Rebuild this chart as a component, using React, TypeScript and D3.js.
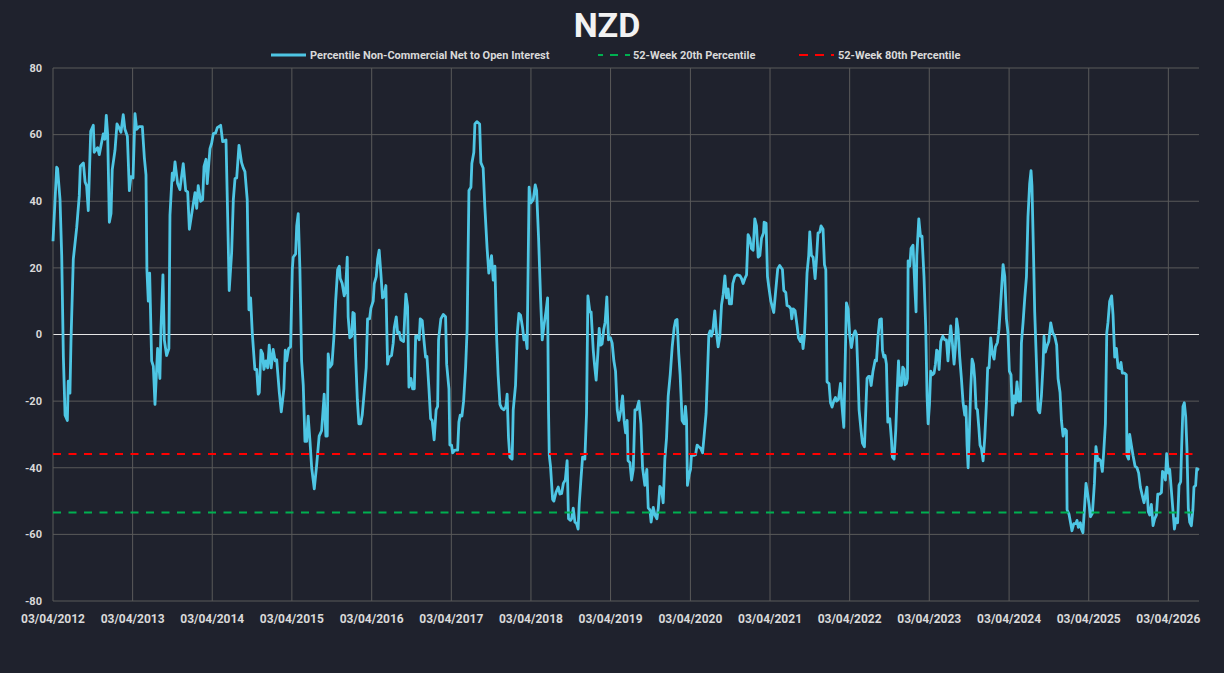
import React from 'react'
import * as d3 from 'd3'

// weekly COT readings: [weeks since 03/04/2012, percentile net-to-OI]
const readings2012 = [
  [0, 28], [2.4, 50.2], [3, 49.8], [4.6, 40.5], [5.7, 23.7], [6.8, -6.8], [7.9, -24.2], [9.4, -25.8],
  [10, -14], [11.1, -17.6], [11.8, -1.6], [13.3, 22.6], [15.5, 32], [17.2, 41.6], [17.9, 50.5],
  [19.9, 51.5], [21, 45.8], [22, 44.7], [23.1, 37.2], [24.7, 61], [26.4, 62.8], [27, 54.7],
  [29.2, 56.1], [30.3, 54], [32.9, 60.2], [34, 58.6], [34.9, 65.8], [35.8, 60], [36.9, 33.7],
  [38, 36.3], [38.8, 49.5], [40.6, 55.3], [41.9, 63.2], [43.2, 62.1], [44.5, 60.7], [46, 66],
  [47.1, 61.6], [48.7, 59.5], [50, 43.2], [51, 47.4], [52.4, 47], [53.7, 66.3], [54.8, 61.6],
  [56.3, 62.4], [58.5, 62.4], [59.8, 53.2], [60.9, 47.9], [61.5, 19.5], [62.4, 10], [63.3, 18.4],
  [64.6, -7.9], [65.7, -9.5], [66.8, -21], [68.5, -4.2], [70, -13.2], [70.7, 1.6], [72, 17.9],
  [72.9, -1.6], [74.4, -6.3], [75.9, -4.2], [76.6, 35.8], [78.1, 48.4], [78.8, 46.3], [79.9, 51.8],
  [81.6, 45.3], [83.1, 43.5], [85.3, 51.3], [86.9, 43.2], [88.2, 42.8], [89.3, 31.6],
]

const readings2014 = [
  [93, 42.6], [94.1, 37.9], [95.1, 44.7], [96.7, 40], [98, 40.5], [98.9, 50.5], [100.2, 52.6],
  [101, 45.3], [102.8, 55.8], [103.9, 57.4], [105, 60.3], [106.5, 60.5], [107.6, 62.1], [109.8, 62.8],
  [111.1, 57.9], [113.3, 58.4], [114.4, 35.3], [115.4, 13.2], [117, 24.7], [118.1, 40.5], [119.2, 46.8],
  [120.3, 47], [121.8, 56.8], [123.5, 51.6], [124.6, 50], [125.7, 48.9], [127.2, 40.5], [128.3, 7.4],
  [129.4, 11], [130.5, 0.5], [132.2, -10.5], [133.4, -10.5], [134.4, -17.9], [135.1, -17.4],
  [136.2, -4.7], [137.3, -5.8], [138.1, -10.5], [139.4, -7.9], [140.6, -10], [141.6, -3.2],
  [142.9, -10], [144.2, -4.5], [145.5, -7.9], [146.5, -7.6], [148.2, -17.4], [149.5, -23.2],
  [151.2, -16.3], [152.1, -4.7], [153, -7.9], [154.3, -4.2], [155.6, -3.7], [156.7, 19.5],
  [157.3, 23.2], [158.9, 24.2], [159.6, 32.6], [160.6, 36.3], [161.7, 19.5], [162.8, -7.9],
  [163.9, -15.3], [165, -32.1], [166.1, -32.1], [167.1, -24.5], [168.3, -32.1], [169.4, -40],
  [171.1, -46.3], [172.6, -39.5], [174.3, -30.5], [175.9, -28.9], [177.6, -17.9], [178.7, -30.5],
  [179.6, -30.5], [180.2, -5.8], [181.3, -9.8], [182.7, -8.9], [184, -0.5], [185.1, 10],
]

const readings2016 = [
  [186.4, 19.5], [187.5, 20.5], [188.1, 16.8], [189.4, 15.3], [190.7, 11.6], [191.6, 13.2],
  [192.7, 23.2], [193.3, 5.3], [194.4, -1], [195.6, -0.5], [196.4, 6.6], [197.3, 6.3], [198.2, -6.8],
  [199.3, -19.5], [200.3, -26.8], [201.5, -26.8], [202.5, -24.2], [203.8, -17.4], [205.1, -10],
  [206, 4.7], [207.3, 4.7], [208.2, 7.9], [209.7, 10], [210.4, 15.3], [211.7, 17.4], [212.6, 22.6],
  [213.6, 25.3], [214.7, 18.4], [215.8, 11], [216.9, 11.6], [218, 14.7], [219.1, -8.9], [220.2, -6.8],
  [221.7, -6.3], [222.8, -2.6], [223.5, 2.1], [224.8, 5.3], [225.7, 0.5], [226.7, 0.7], [227.8, -1.6],
  [229.6, -2.1], [230.5, 6.8], [231.1, 12.1], [232.2, 8.4], [233.1, -15.8], [234.4, -13.2],
  [235.5, -16.3], [236.6, -16.3], [237.5, -0.5], [238.8, -0.5], [239.8, -1.6], [240.5, 4.7],
  [241.8, 4.2], [242.9, -1.6], [244, -6.8], [244.9, -6.6], [246.2, -16.3], [247.3, -25.3],
  [248.3, -25.8], [249.6, -31.6], [250.9, -22.6], [251.9, -21.6], [252.5, -1.6], [254, 4.7],
  [255.6, 6], [257.1, 5.3], [257.8, -8.9], [259.3, -16.3], [259.9, -33.2], [261, -33.2],
  [261.7, -35.5], [263.2, -34.7], [265, -34.7], [265.8, -26.3], [266.7, -24.2], [267.8, -24.5],
  [268.9, -20], [270.2, -10], [271.2, 1.6], [272.4, 43.2], [273.7, 44.2], [274.3, 51.3],
  [275.6, 54.7], [276.3, 63.2], [277.6, 63.9], [279.4, 63.2], [280.2, 51.6], [281.7, 50], [282.8, 38.4],
]

const readings2017 = [
  [284.3, 25.8], [285.4, 18.4], [287.2, 23.7], [288.3, 16.3], [289.4, 20.5], [290.5, -0.5],
  [291.5, -12.1], [292.7, -21], [293.8, -22.1], [295.3, -22.6], [296.6, -21.6], [297.4, -17.9],
  [298.3, -31], [299.2, -36.8], [300.7, -37.4], [301.4, -22.6], [302.9, -15.3], [304, 0], [305.1, 6.3],
  [306.2, 5.8], [307.5, 2.1], [308.4, -1.6], [309.5, -0.5], [310.5, -4.2], [311.8, 44.2], [312.9, 39.5],
  [314.5, 40.5], [315.8, 44.9], [316.7, 43.2], [318, 28.9], [319.3, 11], [320.4, -1.6], [321.5, 2.6],
  [322.8, 6.8], [323.9, 11], [324.5, -22.6], [325, -36.3], [325.8, -39.5], [327.2, -49.5], [328, -50],
  [329.4, -47.4], [330.9, -45.8], [332, -47.9], [333.1, -47.7], [334.2, -44.7], [335.5, -43.7],
  [336.7, -37.9], [337.6, -55.3], [338.9, -55.8], [339.6, -55.3], [340.7, -52.1], [341.8, -56.3],
  [342.9, -56.8], [343.9, -58.4], [344.6, -51], [345.7, -43.7], [346.8, -36.8], [348.3, -37.4],
  [349.4, -23.7], [350.3, 11.6], [351.6, 6.8], [352.4, 6.8], [353.8, -4.7], [354.6, -8.9],
  [355.7, -13.7], [356.8, -5.8], [357.7, 1.8], [358.6, -3.2], [359.6, -2.8], [360.7, 1.6], [361.6, 3.7],
  [362.7, 11.3], [363.8, -1.6], [365.1, -1], [366.2, -2.6], [367.3, -7.9], [368.4, -11], [369.5, -22.6],
  [370.6, -25.8], [371.9, -22.6], [373, -18.4], [374, -25.8], [375, -29.5], [376, -25.8],
  [376.6, -37.9], [377.8, -38.4],
]

const readings2019 = [
  [378.9, -43.7], [380, -40.5], [381.1, -22.6], [382.2, -22.6], [383.7, -20], [385, -26.8], [386.1, -40],
  [387.6, -45.3], [388.9, -40.5], [389.8, -52.1], [390.9, -52.6], [391.7, -56.3], [393.1, -51.9],
  [394.2, -54.2], [395.5, -55.3], [396.4, -52.1], [397.4, -45.6], [398.5, -46.3], [399.6, -50.5],
  [400.7, -37.4], [401.8, -31], [402.9, -18.4], [404.2, -12.1], [405.5, -3.7], [406.8, 2.1],
  [407.7, 4.2], [408.7, 4.5], [409.8, -5.8], [410.7, -12.1], [412, -25.8], [413.3, -26.8],
  [414.2, -21.6], [414.9, -25.8], [415.5, -45.3], [416.6, -42.1], [417.5, -40.5], [418.1, -36.3],
  [419.7, -36.3], [420.8, -36.1], [421.8, -33.2], [422.9, -33.7], [424.2, -34.2], [425.4, -35.5],
  [426.4, -30.5], [427.7, -23.7], [428.6, -12.1], [429.5, 0], [430.3, 1.1], [431.2, -0.5], [432.1, 1.1],
  [433.4, 7.1], [434.5, 0.5], [435.6, -3.7], [436.7, -0.5], [437.8, 8.9], [438.9, 12.1], [440, 17.6],
  [441.1, 11], [442.1, 13.7], [443, 9.2], [444.3, 9.2], [445.2, 15.3], [446.5, 17.4], [447.8, 17.9],
  [449.8, 17.7], [450.9, 16.8], [452, 15.3], [453.1, 16.8], [454.2, 17.9], [455.2, 30], [456.3, 28.9],
  [457.4, 25.8], [458.5, 25.3], [459.6, 34.7], [460.7, 32.6], [461.8, 23.2], [462.9, 23.7], [464, 28.9],
  [465.3, 30.5], [465.7, 33.7], [467, 33.4], [467.9, 17.4], [468.8, 14.2], [470.1, 10],
]

const readings2021 = [
  [472, 6.6], [473.3, 13.2], [474.6, 19.7], [475.9, 20.7], [477.7, 19.5], [478.6, 13.2], [479.9, 12.6],
  [480.7, 8.7], [482.1, 8.4], [483.2, 7.7], [483.8, 4.7], [484.7, 7.7], [486, 7.1], [487.3, 2.6],
  [488.2, -1], [489.5, -2.1], [490.4, -0.5], [491.2, -4.2], [492.1, -0.5], [493, 8.9], [493.8, 18.4],
  [494.9, 23.7], [495.6, 30.8], [496.7, 23.7], [497.8, 23.2], [499.1, 16.8], [500, 22.6], [501, 30.5],
  [502.2, 30.8], [503, 32.6], [504.3, 31.6], [505.2, 21], [506.1, 19.5], [506.9, -14.2], [508.2, -14.7],
  [509.2, -20.5], [510.2, -21.8], [511.3, -20], [512.4, -18.9], [513.1, -20], [514.4, -19.5],
  [515.7, -14.7], [516.6, -21], [517.9, -27.9], [518.7, -10], [519.6, 9.5], [520.7, 7.7], [521.8, -0.5],
  [522.9, -3.9], [524, -0.5], [525.3, 1.1], [526.2, 0], [527, -10], [527.9, -22.6], [529.2, -28.9],
  [530.1, -32.6], [531.4, -33.7], [532.3, -22.6], [533.1, -13.2], [534.1, -12.6], [534.9, -12.6],
  [535.8, -15.3], [537, -11], [538.4, -7.7], [539.3, -7.9], [540.3, -0.5], [541.4, 4.5], [542.5, 4.7],
  [543.2, -4.7], [544.1, -6.8], [544.9, -6.3], [545.8, -8.9], [546.7, -26.3], [548, -25.3],
  [549.1, -31.6], [549.7, -36.8], [550.8, -37.4], [551.9, -28.9], [552.8, -17.4], [553.7, -7.9],
  [554.5, -15.3], [555.7, -15.3], [556.5, -9.8], [557.4, -10.5], [558, -15.1], [558.9, -14.7],
  [559.6, -13.2], [560, 22.1], [561.1, 20.5], [561.9, 25.8], [563.2, 26.8], [564.4, 14.2], [565.2, 6.8],
]

const readings2023 = [
  [565.7, 23.7], [567, 34.7], [568.1, 29.5], [569.1, 29.5], [570.4, 17.4], [571.5, 2.6], [572.4, -18.4],
  [573.1, -26.8], [574, -21], [574.8, -11], [575.9, -12.1], [577, -11.6], [577.9, -8.9], [578.7, -4.7],
  [579.6, -5.3], [580.3, -10.5], [581.4, -2.1], [582.7, -0.5], [584, -1.6], [585.1, -1.6], [586.1, -7.9],
  [587.1, -1.6], [587.9, 2.6], [589, -2.6], [590.1, -8.9], [591, -3.7], [591.8, 4.7], [592.7, 1.6],
  [593.8, -6.8], [594.9, -13.2], [596, -20.5], [597.1, -24.2], [597.9, -21.6], [598.6, -33.2],
  [599.3, -40], [600.2, -27.9], [601, -16.3], [601.9, -7.4], [602.8, -8.9], [603.6, -13.2],
  [604.5, -22.1], [605.4, -22.6], [606.3, -27.9], [607.1, -33.2], [608, -34.2], [609.1, -37.9],
  [610.2, -31], [611.3, -20.5], [612.1, -10], [613, -10], [614.1, -1], [615.2, -5.8], [616.3, -7.4],
  [617.2, -3.7], [618.5, -2.4], [619.5, 1.6], [620.7, 10], [622.2, 21], [623.3, 17.4], [624.4, 4.7],
  [625.4, 0.5], [626.3, -11], [627.4, -12.1], [628.3, -24.2], [629.4, -18.4], [630.3, -20.5],
  [631.3, -14.2], [632.4, -20], [633.6, -20], [634.2, -2.6], [635.3, 3.7], [636.4, 11], [637.5, 17.4],
  [638.5, 35.3], [639.6, 45.3], [640.5, 49.2], [641.1, 44.7], [642.1, 24.7], [642.9, 6.8], [644, -7.9],
  [645.1, -22.6], [646.2, -23.5], [647.3, -18.4], [648.4, -8.9], [649, -0.5], [649.9, -5.3],
  [650.8, -3.7], [652.1, -2.1], [653.4, 3.5], [654.7, 0.5], [656, -0.5], [657.3, -3.2], [658.2, -13.2],
  [659.5, -17.4], [660.4, -25.8], [661.5, -30.5], [662.6, -28.4],
]

const readings2025 = [
  [663.7, -28.9], [664.1, -52.6], [665.4, -54], [666.5, -56.8], [667.3, -58.9], [668.5, -56.8],
  [669.8, -56.8], [670.6, -55.8], [671.5, -57.9], [672.8, -56.5], [673.5, -58.4], [674.5, -59.5],
  [675.5, -52.1], [676.5, -44.7], [677.6, -47.9], [678.5, -51], [679.4, -54.7], [680.7, -53.7],
  [682, -44.7], [683, -33.7], [684.2, -37.9], [685, -37.4], [686.1, -37.9], [687.2, -41.1],
  [688.1, -35.3], [689.2, -26.8], [690.1, 0.5], [690.9, 3.7], [692, 10], [693.3, 11.6], [694.2, 5.8],
  [695.3, -6.8], [696.4, -4.2], [697.5, -10], [698.6, -10.2], [699.4, -8.4], [700.3, -11.6],
  [701.8, -11.6], [702.9, -12.1], [703.3, -36.3], [704.4, -37.4], [705.1, -30], [706.2, -33.2],
  [707.3, -36.3], [708.6, -39.5], [709.9, -40], [711, -41.6], [712.1, -45.8], [713.4, -48.4],
  [714.5, -50.5], [715.6, -47.9], [716.4, -45.8], [717.3, -53.2], [718.2, -54.2], [719.3, -51],
  [720.4, -57.4], [721.5, -55.3], [722.6, -54.2], [723.5, -47.9], [724.8, -47.9], [725.9, -47.4],
  [726.6, -41.1], [727.6, -41.6], [728.5, -43.7], [729.3, -35.8], [730.5, -41.6], [731.3, -40.5],
  [732.4, -46.8], [733.5, -53.2], [734.4, -58.4], [735.4, -55.3], [736.5, -56.5], [737.4, -45.3],
  [738.5, -44.2], [739.1, -34.2], [740, -21.6], [740.9, -20.5], [741.8, -24.7], [742.6, -34.2],
  [743.5, -52.1], [744.4, -56.3], [745.5, -57.4], [746.5, -52.6], [747.2, -45.8], [748.3, -45.3],
  [749, -40.3], [750.5, -40.7],
]

const pct20 = -53.4
const pct80 = -35.9
const yTicks = [-80, -60, -40, -20, 0, 20, 40, 60, 80]
const tickYears = d3.range(2012, 2027)

const START = new Date(2012, 3, 3)
const weekToDate = (w: number) => new Date(START.getTime() + w * 7 * 864e5)

const series = [
  ...readings2012, ...readings2014, ...readings2016, ...readings2017,
  ...readings2019, ...readings2021, ...readings2023, ...readings2025,
].map(([w, v]) => ({ date: weekToDate(w), value: v }))

const W = 1224
const H = 673
const margin = { top: 68, right: 25, bottom: 72, left: 53 }
const font = 'Roboto, "Liberation Sans", sans-serif'

const App = () => {
  const x = d3
    .scaleTime()
    .domain([START, series[series.length - 1].date])
    .range([margin.left, W - margin.right])
  const y = d3.scaleLinear().domain([-80, 80]).range([H - margin.bottom, margin.top])

  const line = d3
    .line<{ date: Date; value: number }>()
    .x((d) => x(d.date))
    .y((d) => y(d.value))

  const ticks = tickYears.map((yr) => new Date(yr, 3, 3))
  const fmt = d3.timeFormat('%d/%m/%Y')
  const [x0, x1] = x.range()

  return (
    <svg
      width={W}
      height={H}
      style={{ position: 'absolute', left: 0, top: 0, display: 'block', background: '#1f222d' }}
    >
      <rect width={W} height={H} fill="#1f222d" />
      <text x={607} y={37} textAnchor="middle" fill="#f2f2f2" fontFamily={font} fontWeight={700} fontSize={34}>
        NZD
      </text>

      {/* legend */}
      <g fontFamily={font} fontWeight={700} fontSize={11} fill="#d9d9d9">
        <line x1={271} x2={306} y1={55} y2={55} stroke="#4ec6e4" strokeWidth={3} />
        <text x={310} y={59}>Percentile Non-Commercial Net to Open Interest</text>
        <line x1={598} x2={630} y1={55} y2={55} stroke="#00b050" strokeWidth={2} strokeDasharray="8,7" strokeDashoffset={3} />
        <text x={633} y={59}>52-Week 20th Percentile</text>
        <line x1={799} x2={834} y1={55} y2={55} stroke="#ff0000" strokeWidth={2} strokeDasharray="9,7" />
        <text x={838} y={59}>52-Week 80th Percentile</text>
      </g>

      {/* grid */}
      {yTicks.map((t) => (
        <line key={t} x1={x0} x2={x1} y1={y(t)} y2={y(t)} stroke={t === 0 ? '#e6e6e6' : '#5a5a5a'} strokeWidth={1} />
      ))}
      {ticks.map((t) => (
        <line key={+t} x1={x(t)} x2={x(t)} y1={y(80)} y2={y(-80)} stroke="#5a5a5a" strokeWidth={1} />
      ))}

      {/* axis labels */}
      <g fontFamily={font} fontWeight={700} fill="#d9d9d9">
        {yTicks.map((t) => (
          <text key={t} x={42} y={y(t)} dy="0.35em" textAnchor="end" fontSize={11}>
            {t}
          </text>
        ))}
        {ticks.map((t) => (
          <text key={+t} x={x(t)} y={623} textAnchor="middle" fontSize={12}>
            {fmt(t)}
          </text>
        ))}
      </g>

      <path d={line(series) ?? ''} fill="none" stroke="#4ec6e4" strokeWidth={2.8} strokeLinejoin="round" />

      <line x1={x0} x2={x1} y1={y(pct80)} y2={y(pct80)} stroke="#ff0000" strokeWidth={2} strokeDasharray="8,7.5" />
      <line x1={x0} x2={x1} y1={y(pct20)} y2={y(pct20)} stroke="#00b050" strokeWidth={2} strokeDasharray="8,7.5" />
    </svg>
  )
}

export default App
